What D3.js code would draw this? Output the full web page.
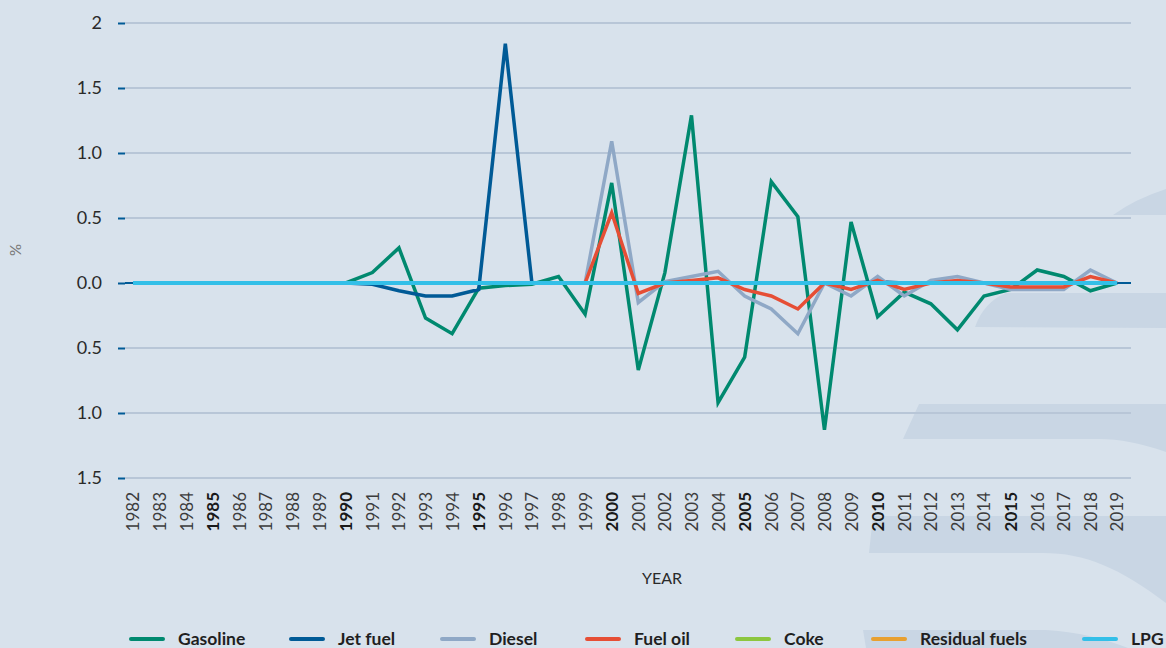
<!DOCTYPE html>
<html>
<head>
<meta charset="utf-8">
<script src="https://cdn.jsdelivr.net/npm/d3@7"></script>
<style>
html,body{margin:0;padding:0;background:#d8e2ec;}
svg{display:block;font-family:"Source Sans Pro",Lato,"Open Sans",sans-serif;}
</style>
</head>
<body>
<svg id="chart" width="1166" height="648"></svg>
<script>
const years = d3.range(1982, 2020);
const yTicks = [2, 1.5, 1, 0.5, 0, -0.5, -1, -1.5];
const yTickLabels = ["2", "1.5", "1.0", "0.5", "0.0", "0.5", "1.0", "1.5"];
const boldYears = [1985, 1990, 1995, 2000, 2005, 2010, 2015];
const seriesNames = ["Gasoline", "Jet fuel", "Diesel", "Fuel oil", "Coke", "Residual fuels", "LPG"];
const seriesColors = ["#00896f", "#005a96", "#8fa8c6", "#e64e35", "#8cc63f", "#e8a030", "#33bfe8"];

// values 1982..2019
const gasoline = [0,0,0,0,0,0,0,0,0, 0.08,0.27,-0.27,-0.39,-0.04,-0.02,-0.01,0.05,-0.24,0.77,-0.67,0.08,1.29,-0.92,-0.57,0.78,0.51,-1.13,0.47,-0.26,-0.07,-0.16,-0.36,-0.1,-0.05,0.1,0.05,-0.06,0];
const jetFuel  = [0,0,0,0,0,0,0,0,0, -0.01,-0.06,-0.1,-0.1,-0.05,1.84,0,0,0,0,0,0,0,0,0,0,0,0,0,0.01,0,0,0,0,0,0,0,0,0];
const diesel   = [0,0,0,0,0,0,0,0,0, 0,0,0,0,0,0,0,0,0,1.09,-0.15,0.01,0.05,0.09,-0.1,-0.2,-0.39,0,-0.1,0.05,-0.1,0.02,0.05,0,-0.05,-0.05,-0.05,0.1,0];
const fuelOil  = [0,0,0,0,0,0,0,0,0, 0,0,0,0,0,0,0,0,0,0.54,-0.08,0,0.02,0.04,-0.05,-0.1,-0.2,0,-0.05,0.02,-0.05,0,0.02,0,-0.03,-0.03,-0.03,0.05,0];
const coke     = years.map(() => 0);
const residual = years.map(() => 0);
const lpg      = years.map(() => 0);
const seriesValues = [gasoline, jetFuel, diesel, fuelOil, coke, residual, lpg];

const svg = d3.select("#chart");

// decorative background shapes
const deco = [
  "M1113,215 Q1135,199 1166,189 L1166,215 Z",
  "M975,327 Q984,302 1006,293 L1166,293 L1166,328 Z",
  "M919,404 L1166,404 L1166,452 C1140,443 1120,439 1099,439 L903,439 Z",
  "M873,516 L1166,516 L1166,603 C1120,568 1085,553 1043,553 L869,553 Z",
  "M866,648 L863,630 L1046,630 C1080,632 1105,639 1128,648 Z"
];
svg.append("g").selectAll("path").data(deco).join("path")
  .attr("d", d => d).attr("fill", "#c9d6e4");

const x = d3.scalePoint().domain(years).range([133, 1117]);
const y = d3.scaleLinear().domain([-1.5, 2]).range([478, 23]);

// grid
svg.append("g").selectAll("line").data(yTicks).join("line")
  .attr("x1", 125).attr("x2", 1131)
  .attr("y1", d => y(d)).attr("y2", d => y(d))
  .attr("stroke", d => d === 0 ? "#005a96" : "#b8c6d7")
  .attr("stroke-width", 2);

// y axis
const yAxis = d3.axisLeft(y).tickValues(yTicks).tickSize(7).tickPadding(16)
  .tickFormat((d, i) => yTickLabels[i]);
const gy = svg.append("g").attr("transform", "translate(125,0)").call(yAxis);
gy.select(".domain").remove();
gy.selectAll(".tick line").attr("stroke", "#005a96").attr("stroke-width", 2);
gy.selectAll(".tick text").attr("fill", "#2a2a2a").style("font-size", "18px")
  .style("font-family", "Lato, sans-serif");

// x axis
const xAxis = d3.axisBottom(x).tickSize(0).tickPadding(0);
const gx = svg.append("g").attr("transform", "translate(0,492)").call(xAxis);
gx.select(".domain").remove();
gx.selectAll(".tick text")
  .attr("transform", "rotate(-90)")
  .attr("x", 0).attr("y", 0).attr("dy", "0.35em")
  .attr("text-anchor", "end")
  .attr("fill", d => boldYears.includes(d) ? "#1a1a1a" : "#3c3c3c")
  .style("font-size", "17px")
  .style("font-family", "Lato, sans-serif")
  .style("font-weight", d => boldYears.includes(d) ? 700 : 400);

// axis titles
svg.append("text").attr("transform", "translate(21,250) rotate(-90)")
  .attr("text-anchor", "middle").attr("fill", "#777").style("font-size", "15px")
  .style("font-family", "Lato, sans-serif").text("%");
svg.append("text").attr("x", 662).attr("y", 584)
  .attr("text-anchor", "middle").attr("fill", "#2a2a2a").style("font-size", "16px")
  .style("font-family", "Lato, sans-serif").text("YEAR");

// lines
const line = d3.line().x((d, i) => x(years[i])).y(d => y(d));
svg.append("g").selectAll("path").data(seriesValues).join("path")
  .attr("d", d => line(d))
  .attr("fill", "none")
  .attr("stroke", (d, i) => seriesColors[i])
  .attr("stroke-width", (d, i) => i === 6 ? 4 : 3.5)
  .attr("stroke-linejoin", "miter");

// legend
const legendX = [131, 291, 442, 587, 737, 873, 1084];
const lg = svg.append("g").selectAll("g").data(seriesNames).join("g")
  .attr("transform", (d, i) => `translate(${legendX[i]},639)`);
lg.append("line").attr("x1", 0).attr("x2", 32).attr("y1", 0).attr("y2", 0)
  .attr("stroke", (d, i) => seriesColors[i]).attr("stroke-width", 4)
  .attr("stroke-linecap", "round");
lg.append("text").attr("x", 47).attr("y", 0).attr("dy", "0.36em")
  .attr("fill", "#1f1f1f").style("font-size", "17.5px").style("font-weight", 700)
  .style("font-family", "Lato, sans-serif")
  .text(d => d);
</script>
</body>
</html>
